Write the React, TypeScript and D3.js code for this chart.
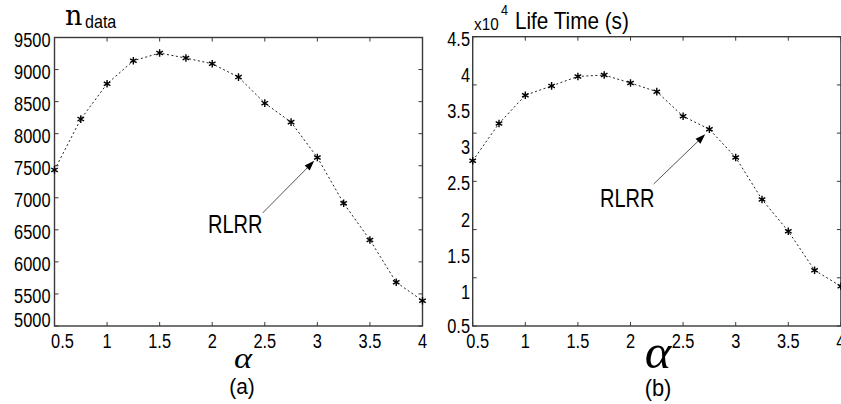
import React from "react";
import * as d3 from "d3";

// ---------- data ----------
const alphaValues = [0.5, 0.75, 1, 1.25, 1.5, 1.75, 2, 2.25, 2.5, 2.75, 3, 3.25, 3.5, 3.75, 4];
const nDataValues = [7435, 8227, 8778, 9137, 9257, 9179, 9090, 8882, 8476, 8180, 7628, 6915, 6342, 5682, 5395];
// Life time in units of 1e4 s
const lifeTimeValues = [2.785, 3.3, 3.69, 3.82, 3.95, 3.97, 3.86, 3.74, 3.4, 3.22, 2.83, 2.25, 1.81, 1.27, 1.05];

const xTicks = [0.5, 1, 1.5, 2, 2.5, 3, 3.5, 4];
const xTickLabels = ["0.5", "1", "1.5", "2", "2.5", "3", "3.5", "4"];
const nDataTicks = [5000, 5500, 6000, 6500, 7000, 7500, 8000, 8500, 9000, 9500];
const nDataTickLabels = ["5000", "5500", "6000", "6500", "7000", "7500", "8000", "8500", "9000", "9500"];
const lifeTicks = [0.5, 1, 1.5, 2, 2.5, 3, 3.5, 4, 4.5];
const lifeTickLabels = ["0.5", "1", "1.5", "2", "2.5", "3", "3.5", "4", "4.5"];
// tick marks of panel (b) follow the original (unlabelled) 6-interval axis
const lifeMarkTicks = [0, 1, 2, 3, 4, 5, 6];

// annotations: [textX, textY, fromX, fromY, toX, toY]
const annotationA = [1.96, 6456, 2.48, 6764, 2.97, 7576];
const annotationB = [1.71, 2.145, 2.22, 2.463, 2.71, 3.15];
const annotationLabel = "RLRR";

const SANS = "'Liberation Sans', Arial, sans-serif";
const SERIF = "'Liberation Serif', 'Times New Roman', serif";

type TProps = {
  x: number; y: number; size: number; sx?: number; anchor?: string;
  family?: string; italic?: boolean; children: React.ReactNode;
};
const T = ({ x, y, size, sx = 1, anchor = "start", family = SANS, italic = false, children }: TProps) => (
  <text
    transform={`translate(${x},${y}) scale(${sx},1)`}
    fontSize={size}
    fontFamily={family}
    fontStyle={italic ? "italic" : "normal"}
    textAnchor={anchor}
    fill="#000"
  >
    {children}
  </text>
);

const Arrow = ({ x1, y1, x2, y2 }: { x1: number; y1: number; x2: number; y2: number }) => {
  const ang = Math.atan2(y2 - y1, x2 - x1);
  const L = 10, W = 3.5;
  const bx = x2 - L * Math.cos(ang), by = y2 - L * Math.sin(ang);
  const px = -Math.sin(ang) * W, py = Math.cos(ang) * W;
  return (
    <g>
      <line x1={x1} y1={y1} x2={bx} y2={by} stroke="#555" strokeWidth={1} />
      <polygon points={`${x2},${y2} ${bx + px},${by + py} ${bx - px},${by - py}`} fill="#000" />
    </g>
  );
};

const asterisk = d3.symbol().type(d3.symbolAsterisk).size(40);

type PanelProps = {
  xr: [number, number];
  yr: [number, number];
  yDomain: [number, number];
  values: number[];
  yTicks: number[];
  yTickLabels: string[];
  markScale?: d3.ScaleLinear<number, number>;
  markTicks?: number[];
  labelRight: number;
  firstYLabelShift: number;
  firstXLabelShift: number;
  ann: number[];
};

const Panel = (p: PanelProps) => {
  const x = d3.scaleLinear().domain([0.5, 4]).range(p.xr);
  const y = d3.scaleLinear().domain(p.yDomain).range(p.yr);
  const [left, right] = p.xr;
  const [bottom, top] = p.yr;
  const line = d3.line<number>().x((_, i) => x(alphaValues[i])).y((d) => y(d));
  const markY = p.markScale ? p.markTicks!.map((t) => p.markScale!(t)) : p.yTicks.map((t) => y(t));
  const tl = 4;
  const axisColor = "#3a3a3a";
  return (
    <g>
      {/* frame */}
      <rect x={left} y={top} width={right - left} height={bottom - top} fill="none" stroke={axisColor} strokeWidth={1.4} />
      {/* x ticks */}
      {xTicks.map((t, i) => (
        <g key={"xt" + i}>
          <line x1={x(t)} x2={x(t)} y1={bottom} y2={bottom - tl} stroke={axisColor} />
          <line x1={x(t)} x2={x(t)} y1={top} y2={top + tl} stroke={axisColor} />
        </g>
      ))}
      {/* y tick marks */}
      {markY.map((yy, i) => (
        <g key={"ym" + i}>
          <line x1={left} x2={left + tl} y1={yy} y2={yy} stroke={axisColor} />
          <line x1={right} x2={right - tl} y1={yy} y2={yy} stroke={axisColor} />
        </g>
      ))}
      {/* x labels */}
      {xTicks.map((t, i) => (
        <T key={"xl" + i} x={x(t) + (i === 0 ? p.firstXLabelShift : 0)} y={348} size={21} sx={0.78} anchor="middle">
          {xTickLabels[i]}
        </T>
      ))}
      {/* y labels */}
      {p.yTicks.map((t, i) => (
        <T key={"yl" + i} x={p.labelRight} y={y(t) + 9 + (i === 0 ? p.firstYLabelShift : 0)} size={21} sx={0.78} anchor="end">
          {p.yTickLabels[i]}
        </T>
      ))}
      {/* data line */}
      <path d={line(p.values) || ""} fill="none" stroke="#222" strokeWidth={1} strokeDasharray="2,2.5" />
      {p.values.map((v, i) => (
        <path key={"m" + i} d={asterisk() || ""} transform={`translate(${x(alphaValues[i])},${y(v)})`} stroke="#000" strokeWidth={1.4} fill="none" />
      ))}
      {/* annotation */}
      <T x={x(p.ann[0])} y={y(p.ann[1])} size={25} sx={0.8}>{annotationLabel}</T>
      <Arrow x1={x(p.ann[2])} y1={y(p.ann[3])} x2={x(p.ann[4])} y2={y(p.ann[5])} />
    </g>
  );
};

export default function App() {
  const lifeMarkScale = d3.scaleLinear().domain([0, 6]).range([326, 36.7]);
  return (
    <div style={{ position: "absolute", left: 0, top: 0 }}>
      <svg width={841} height={404} style={{ display: "block", background: "#fff" }}>
        <rect width={841} height={404} fill="#fff" />
        <Panel
          xr={[54.5, 422.5]}
          yr={[326, 37.5]}
          yDomain={[5000, 9500]}
          values={nDataValues}
          yTicks={nDataTicks}
          yTickLabels={nDataTickLabels}
          labelRight={50.5}
          firstYLabelShift={-8}
          firstXLabelShift={8}
          ann={annotationA}
        />
        <Panel
          xr={[472.7, 840.9]}
          yr={[326, 36.7]}
          yDomain={[0.5, 4.5]}
          values={lifeTimeValues}
          yTicks={lifeTicks}
          yTickLabels={lifeTickLabels}
          markScale={lifeMarkScale}
          markTicks={lifeMarkTicks}
          labelRight={470}
          firstYLabelShift={-2}
          firstXLabelShift={5}
          ann={annotationB}
        />
        {/* panel (a) titles */}
        <T x={65} y={25} size={27} family="'DejaVu Serif', serif">n</T>
        <T x={85} y={28} size={17.5} sx={0.92}>data</T>
        <T x={243} y={368} size={30} sx={1.15} family={SERIF} italic anchor="middle">α</T>
        <T x={242} y={394} size={22} sx={0.95} anchor="middle">(a)</T>
        {/* panel (b) titles */}
        <T x={474} y={30} size={17} sx={0.9}>x10</T>
        <T x={501} y={15} size={14} sx={0.9}>4</T>
        <T x={515} y={28.5} size={23} sx={0.9}>Life Time (s)</T>
        <T x={658} y={368} size={48} sx={1.05} family={SERIF} italic anchor="middle">α</T>
        <T x={658} y={396} size={23} sx={0.95} anchor="middle">(b)</T>
      </svg>
    </div>
  );
}
